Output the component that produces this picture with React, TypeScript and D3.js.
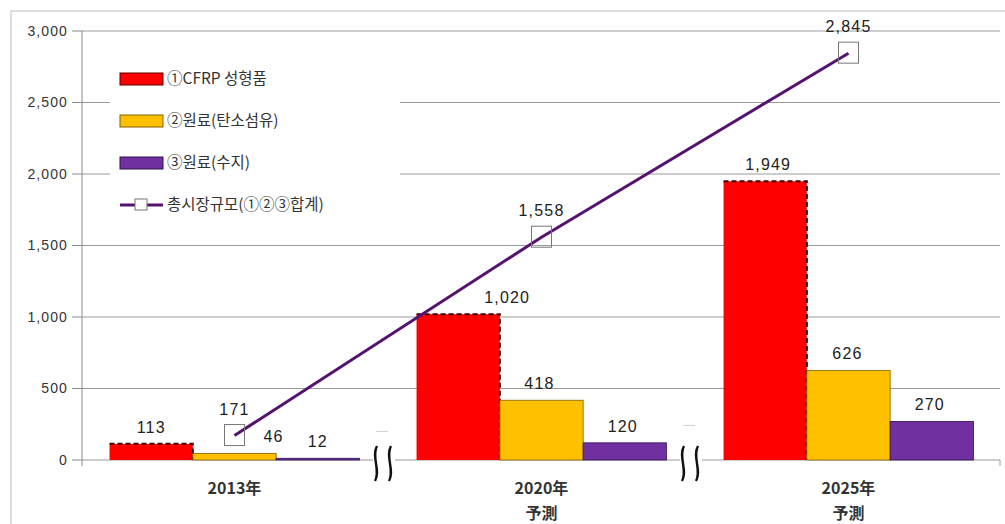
import React from "react";
import * as d3 from "d3";

const categories = ["2013年", "2020年", "2025年"];
const subLabels = ["", "予測", "予測"];
const seriesNames = ["①CFRP 성형품", "②원료(탄소섬유)", "③원료(수지)"];
const cfrp = [113, 1020, 1949];
const carbonFiber = [46, 418, 626];
const resin = [12, 120, 270];
const total = [171, 1558, 2845];
const totalName = "총시장규모(①②③합계)";
const yTicks = [0, 500, 1000, 1500, 2000, 2500, 3000];

const W = 1005;
const H = 524;
const colors = ["#FF0000", "#FFC000", "#7030A0"];
const strokes = ["#600000", "#806000", "#301050"];
const lineColor = "#551370";
const numFont = "'Liberation Sans', Arial, sans-serif";
const krFont = "'Noto Sans CJK KR', 'Noto Sans', sans-serif";

export default function App() {
  const series = [cfrp, carbonFiber, resin];
  const x = d3.scaleBand<string>().domain(categories).range([81, 1002]).paddingInner(0.186).paddingOuter(0.093);
  const xs = d3.scaleBand<string>().domain(seriesNames).range([0, x.bandwidth()]);
  const y = d3.scaleLinear().domain([0, 3000]).range([460, 31]);
  const fmt = d3.format(",");
  const axisX = 82;
  const plotRight = 1000;
  // label nudges (Excel moved some labels to avoid overlap)
  const labelShift = [
    [0, 49, 3],
    [39, -2, -1],
    [0, -2, -2],
  ];
  const cx = (c: string) => (x(c) as number) + x.bandwidth() / 2;
  const lineGen = d3.line<number>().x((_, i) => cx(categories[i])).y((d) => y(d));

  const gaps = categories.slice(1).map((c, i) => {
    const prevEnd = (x(categories[i]) as number) + x.bandwidth();
    return (prevEnd + (x(c) as number)) / 2;
  });

  const segs = categories.map((c, i) => {
    const s = i === 0 ? axisX : gaps[i - 1] + 7;
    const e = i === categories.length - 1 ? plotRight : gaps[i] - 15;
    return [s, e];
  });

  const squiggle = (gx: number, top: number, bot: number) => {
    const p = d3.path();
    const h = bot - top;
    p.moveTo(gx + 1, top);
    p.bezierCurveTo(gx - 5, top + h * 0.3, gx + 5, top + h * 0.7, gx - 1, bot);
    return p.toString();
  };

  return (
    <svg width={W} height={H} style={{ position: "absolute", left: 0, top: 0, background: "#fff" }}>
      <rect x={11} y={11} width={1010} height={530} fill="#fff" stroke="#c8c8c8" strokeWidth={1.2} />
      {/* gridlines */}
      {yTicks.filter((t) => t > 0).map((t) => (
        <line key={t} x1={axisX} x2={plotRight} y1={y(t)} y2={y(t)} stroke="#9a9a9a" strokeWidth={1} />
      ))}
      {/* legend background */}
      <rect x={110} y={58} width={290} height={172} fill="#fff" />
      {/* y axis */}
      <line x1={axisX} x2={axisX} y1={y(3000)} y2={y(0) + 6} stroke="#8a8a8a" strokeWidth={1} />
      {yTicks.map((t) => (
        <g key={t}>
          <line x1={axisX - 10} x2={axisX} y1={y(t)} y2={y(t)} stroke="#8a8a8a" />
          <text x={68} y={y(t)} dy="0.35em" textAnchor="end" fontFamily={numFont} fontSize={14} letterSpacing={1.1} fill="#333">
            {fmt(t)}
          </text>
        </g>
      ))}
      {/* baseline segments */}
      {segs.map(([s, e], i) => (
        <line key={i} x1={s} x2={e} y1={y(0)} y2={y(0)} stroke="#9a9a9a" strokeWidth={1} />
      ))}
      <line x1={plotRight} x2={plotRight} y1={y(0)} y2={y(0) + 6} stroke="#9a9a9a" />
      {/* break marks */}
      {gaps.map((g, i) => (
        <g key={i}>
          <path d={squiggle(g - 12, 446, 481)} fill="none" stroke="#111" strokeWidth={2.4} />
          <path d={squiggle(g + 2, 446, 481)} fill="none" stroke="#111" strokeWidth={2.4} />
          <line x1={g - 12} x2={g} y1={y(200) + i * -6} y2={y(200) + i * -6} stroke="#cfcfcf" />
        </g>
      ))}
      {/* bars */}
      {categories.map((c, ci) => (
        <g key={c} transform={`translate(${x(c)},0)`}>
          {series.map((s, si) => {
            const bx = xs(seriesNames[si]) as number;
            const by = y(s[ci]);
            const bh = y(0) - by;
            const bw = xs.bandwidth();
            return (
              <g key={si}>
                <rect x={bx} y={by} width={bw} height={bh} fill={colors[si]} stroke={si === 0 ? "none" : strokes[si]} strokeWidth={si === 0 ? 0 : 0.8} />
                {si === 0 && (
                  <path
                    d={`M${bx},${by}H${bx + bw}V${y(0)}`}
                    fill="none"
                    stroke="#3a0000"
                    strokeWidth={2}
                    strokeDasharray="5,3"
                  />
                )}
                <text
                  x={bx + bw / 2 + labelShift[si][ci]}
                  y={by - 11}
                  textAnchor="middle"
                  fontFamily={numFont}
                  fontSize={16}
                  letterSpacing={1.2}
                  fill="#222"
                >
                  {fmt(s[ci])}
                </text>
              </g>
            );
          })}
        </g>
      ))}
      {/* total line */}
      <path d={lineGen(total) as string} fill="none" stroke={lineColor} strokeWidth={3} />
      {total.map((v, i) => (
        <g key={i}>
          <rect x={cx(categories[i]) - 10} y={y(v) - 11} width={20} height={21} fill="none" stroke="#777" strokeWidth={1} />
          <text x={cx(categories[i])} y={y(v) - 21} textAnchor="middle" fontFamily={numFont} fontSize={16} letterSpacing={1.2} fill="#222">
            {fmt(v)}
          </text>
        </g>
      ))}
      {/* category labels */}
      {categories.map((c, i) => (
        <g key={c}>
          <text x={cx(c)} y={488} dy="0.35em" textAnchor="middle" fontFamily={krFont} fontWeight="bold" fontSize={16} fill="#333">
            {c}
          </text>
          {subLabels[i] && (
            <text x={cx(c)} y={513} dy="0.35em" textAnchor="middle" fontFamily={krFont} fontWeight="bold" fontSize={16} fill="#333">
              {subLabels[i]}
            </text>
          )}
        </g>
      ))}
      {/* legend */}
      {seriesNames.map((n, i) => {
        const ly = 79 + i * 42;
        return (
          <g key={n}>
            <rect x={120} y={ly - 6} width={43} height={12} fill={colors[i]} stroke={strokes[i]} strokeWidth={1} />
            <text x={167} y={ly} dy="0.35em" fontFamily={krFont} fontSize={15.5} fill="#333">
              {n}
            </text>
          </g>
        );
      })}
      <g>
        <line x1={120} x2={163} y1={205} y2={205} stroke={lineColor} strokeWidth={3} />
        <rect x={135} y={199} width={12} height={11} fill="#fff" stroke="#777" />
        <text x={167} y={205} dy="0.35em" fontFamily={krFont} fontSize={15.5} fill="#333">
          {totalName}
        </text>
      </g>
    </svg>
  );
}
